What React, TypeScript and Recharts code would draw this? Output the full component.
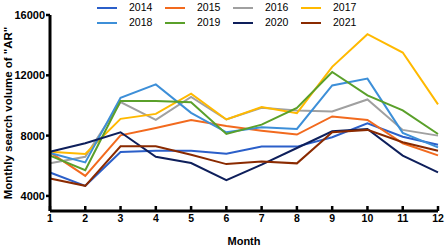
import React from 'react';
import { LineChart, Line, XAxis, YAxis, Label } from 'recharts';

const MONTHS = [1, 2, 3, 4, 5, 6, 7, 8, 9, 10, 11, 12];
const YEARS = ['2014', '2015', '2016', '2017', '2018', '2019', '2020', '2021'];

const V2014 = [5550, 4670, 6910, 7000, 7000, 6800, 7270, 7270, 7890, 8820, 7930, 7400];
const V2015 = [6890, 5330, 8020, 8510, 9040, 8640, 8330, 8070, 9270, 9040, 7490, 6690];
const V2016 = [6160, 6600, 10220, 9040, 10560, 9070, 9840, 9670, 9600, 10400, 8380, 8000];
const V2017 = [6930, 6780, 9110, 9440, 10780, 9070, 9890, 9490, 12560, 14730, 13510, 10070];
const V2018 = [6850, 6220, 10510, 11400, 9510, 8220, 8560, 8440, 11330, 11780, 8180, 7220];
const V2019 = [6670, 5710, 10290, 10290, 10220, 8110, 8730, 9840, 12220, 10670, 9670, 8110];
const V2020 = [6930, 7490, 8220, 6600, 6180, 5040, 6070, 7180, 8290, 8440, 6670, 5560];
const V2021 = [5160, 4670, 7290, 7290, 6730, 6110, 6290, 6160, 8220, 8380, 7560, 7000];

const SERIES = [V2014, V2015, V2016, V2017, V2018, V2019, V2020, V2021];
const COLORS = ['#2b5fc9', '#f26a1e', '#a0a0a0', '#ffb900', '#3d8fd8', '#5aa02a', '#0e1f5b', '#8a2a00'];

const Y_TICKS = [4000, 8000, 12000, 16000];

const DATA = MONTHS.map((m, i) => {
  const row: Record<string, number> = { month: m };
  YEARS.forEach((y, k) => { row[y] = SERIES[k][i]; });
  return row;
});

const FONT = '"Liberation Sans", Arial, sans-serif';

// two rows of four, laid out like the original key
function YearLegend() {
  const rows = [YEARS.slice(0, 4), YEARS.slice(4)];
  return (
    <div style={{ position: 'absolute', left: 97, top: 0, fontFamily: FONT, fontSize: 10.5, color: '#000', lineHeight: 1 }}>
      {rows.map((row, r) => (
        <div key={r} style={{ display: 'flex', height: 15, alignItems: 'center' }}>
          {row.map((year) => {
            const idx = YEARS.indexOf(year);
            return (
              <div key={year} style={{ display: 'flex', alignItems: 'center', width: 68 }}>
                <span style={{ display: 'inline-block', width: 20, height: 2, background: COLORS[idx], marginRight: 12 }} />
                <span>{year}</span>
              </div>
            );
          })}
        </div>
      ))}
    </div>
  );
}

export default function App() {
  return (
    <div style={{ position: 'absolute', left: 0, top: 0, width: 447, height: 248, background: '#fff' }}>
      <LineChart width={447} height={248} data={DATA} margin={{ top: 15, right: 9, bottom: 0, left: 0 }}>
        <XAxis
          dataKey="month"
          type="number"
          domain={[1, 12]}
          ticks={MONTHS}
          height={37}
          axisLine={{ stroke: '#000', strokeWidth: 3 }}
          tickLine={{ stroke: '#000', strokeWidth: 2.5 }}
          tickSize={-5}
          tickMargin={9}
          tick={{ fill: '#000', fontSize: 10.5, fontWeight: 700, fontFamily: FONT }}
        >
          <Label value="Month" position="insideBottom" offset={3} style={{ fill: '#000', fontSize: 11, fontWeight: 700, fontFamily: FONT }} />
        </XAxis>
        <YAxis
          type="number"
          domain={[3000, 16000]}
          ticks={Y_TICKS}
          width={50}
          axisLine={{ stroke: '#000', strokeWidth: 3 }}
          tickLine={{ stroke: '#000', strokeWidth: 2.5 }}
          tickSize={4}
          tickMargin={1}
          tick={{ fill: '#000', fontSize: 11, fontWeight: 700, fontFamily: FONT }}
        >
          <Label value='Monthly search volume of "AR"' angle={-90} position="center" dx={-17} style={{ fill: '#000', fontSize: 11.5, fontWeight: 700, fontFamily: FONT, textAnchor: 'middle' }} />
        </YAxis>
        {YEARS.map((year, k) => (
          <Line
            key={year}
            dataKey={year}
            type="linear"
            stroke={COLORS[k]}
            strokeWidth={2}
            dot={false}
            isAnimationActive={false}
          />
        ))}
      </LineChart>
      <YearLegend />
    </div>
  );
}
